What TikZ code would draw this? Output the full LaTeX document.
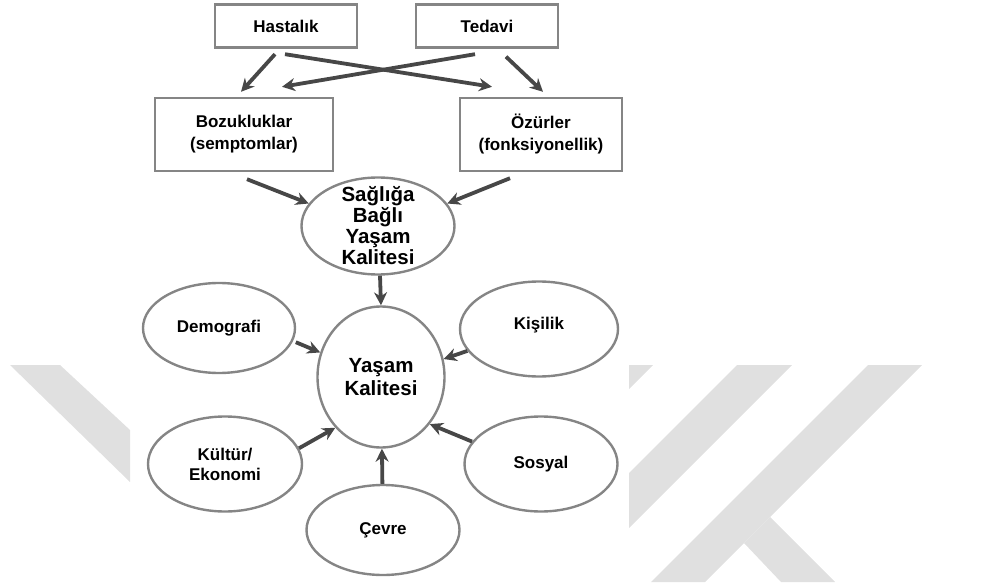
\documentclass[tikz,border=0pt]{standalone}
\usepackage{fontspec}
\setmainfont{Liberation Sans}
\usetikzlibrary{shapes.geometric,arrows.meta}

\begin{document}
\begin{tikzpicture}[
    x=1pt, y=1pt,
    font=\bfseries\fontsize{17}{22}\selectfont,
    kutu/.style={draw=black!48, line width=2.4pt, inner sep=0pt, align=center},
    oval/.style={ellipse, draw=black!48, line width=2.4pt, inner sep=0pt, align=center,
      font=\bfseries\fontsize{17}{20}\selectfont},
    arr/.style={-{Stealth[length=13pt,width=13pt]}, line width=3.8pt, black!72},
    wm/.style={fill=black!12}
  ]
    \useasboundingbox (0,0) rectangle (985,582);

    % watermark
    \fill[wm] (10,217) -- (60,217) -- (130,152) -- (130,100) -- cycle;
    \fill[wm] (629,217) -- (653,217) -- (629,193) -- cycle;
    \fill[wm] (737,217) -- (792,217) -- (629,54) -- (629,109) -- cycle;
    \fill[wm] (868,217) -- (922,217) -- (705,0) -- (651,0) -- cycle;
    \fill[wm] (770,65) -- (835,0) -- (781,0) -- (744,39) -- cycle;

    \node[kutu, minimum width=142pt, minimum height=43pt] (has) at (286,556) {Hastalık};
    \node[kutu, minimum width=142pt, minimum height=43pt] (ted) at (487,556) {Tedavi};
    \node[kutu, minimum width=178pt, minimum height=73pt] (boz) at (244,447.5)
      {Bozukluklar\\(semptomlar)};
    \node[kutu, minimum width=162pt, minimum height=73pt] (ozu) at (541,447.5)
      {Özürler\\(fonksiyonellik)};

    \node[oval, minimum width=153pt, minimum height=97pt] (sbyk) at (378,356) {};
    \node[font=\bfseries\fontsize{20.5}{21}\selectfont, align=center] (sbykt) at (sbyk)
      {Sağlığa\\Bağlı\\Yaşam\\Kalitesi};

    \node[oval, minimum width=127pt, minimum height=141pt,
      font=\bfseries\fontsize{20.5}{23}\selectfont] (yk) at (381,205) {Yaşam\\Kalitesi};
    \node[oval, minimum width=152pt, minimum height=90pt] (dem) at (219,254) {Demografi};
    \node[oval, minimum width=158pt, minimum height=95pt] (kis) at (539,253)
      {\raisebox{12pt}{Kişilik}};
    \node[oval, minimum width=154pt, minimum height=95pt] (kul) at (225,118) {Kültür/\\Ekonomi};
    \node[oval, minimum width=153pt, minimum height=95pt] (sos) at (541,118) {Sosyal};
    \node[oval, minimum width=153pt, minimum height=90pt] (cev) at (383,52) {Çevre};

    \draw[arr] ([shift={(-11,-5.5)}]has.south) -- ([shift={(-3,5)}]boz.north);
    \draw[arr] ([shift={(-1,-5.5)}]has.south) -- ([shift={(-49,10)}]ozu.north);
    \draw[arr] ([shift={(-12,-5.5)}]ted.south) -- ([shift={(38,10)}]boz.north);
    \draw[arr] ([shift={(19,-8)}]ted.south) -- ([shift={(2,5)}]ozu.north);
    \draw[arr] ([shift={(3,-7)}]boz.south) -- (sbyk.162);
    \draw[arr] ([shift={(-31,-6)}]ozu.south) -- (sbyk.18);
    \draw[arr] ([xshift=2pt]sbyk.south) -- (yk.north);

    \draw[arr, shorten <=3pt] (dem.-10) -- (yk.158);
    \draw[arr] (kis.197) -- (yk.16);
    \draw[arr] (kul.12) -- (yk.228);
    \draw[arr] (sos.162) -- (yk.-44);
    \draw[arr] (cev) -- (yk);
  \end{tikzpicture}
\end{document}
